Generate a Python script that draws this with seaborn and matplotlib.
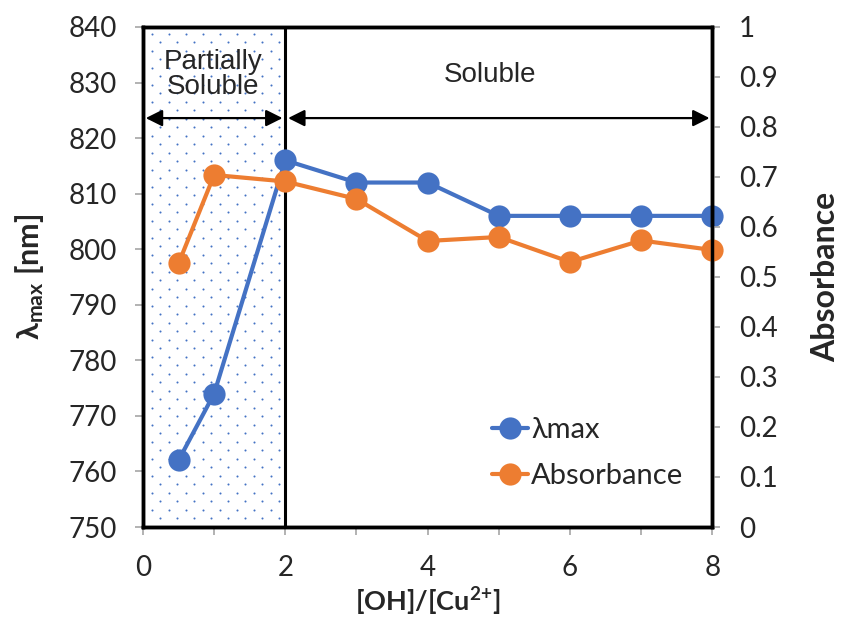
import matplotlib
matplotlib.use("Agg")
import matplotlib.pyplot as plt
import seaborn as sns
import pandas as pd
import numpy as np

ratio = [0.5, 1, 2, 3, 4, 5, 6, 7, 8]
lambda_max = [762, 774, 816, 812, 812, 806, 806, 806, 806]
absorbance = [0.527, 0.704, 0.691, 0.656, 0.572, 0.580, 0.530, 0.573, 0.554]
x_ticks = [0, 2, 4, 6, 8]
region_labels = ["Partially\nSoluble", "Soluble"]

sns.set_theme(style="white")
plt.rcParams['font.family'] = ['Lato', 'DejaVu Sans']
plt.rcParams['mathtext.fontset'] = 'custom'
plt.rcParams['mathtext.rm'] = 'Lato:bold'
plt.rcParams['mathtext.bf'] = 'Lato:bold'
plt.rcParams['mathtext.it'] = 'Lato:bold'

df = pd.DataFrame({"ratio": ratio, "lambda": lambda_max, "abs": absorbance})

W, H = 841, 620
fig = plt.figure(figsize=(W / 100, H / 100), dpi=100)
ax = fig.add_axes([0.170, 0.150, 0.677, 0.8065])
ax2 = ax.twinx()

blue = "#4472C4"
orange = "#ED7D31"

ax.set_xlim(0, 8)
ax.set_ylim(750, 840)
ax2.set_ylim(0, 1)

# dotted texture for the partially soluble region (staggered lattice in pixel spacing)
px_x = 8 / (0.677 * W)
px_y = 90 / (0.8065 * H)
dx, dy = 17 * px_x, 8.5 * px_y
rows = np.arange(840 - 7 * px_y, 750, -dy)
pts_x, pts_y = [], []
for i, yv in enumerate(rows):
    start = 9 * px_x + (dx / 2 if i % 2 else 0)
    xs = np.arange(start, 2 - 2 * px_x, dx)
    pts_x.extend(xs)
    pts_y.extend([yv] * len(xs))
ax.scatter(pts_x, pts_y, s=2.2, color=blue, linewidths=0, zorder=0)
ax.axvline(2, color="black", lw=2.2, zorder=1)

sns.lineplot(data=df, x="ratio", y="lambda", ax=ax, color=blue, marker="o",
             markersize=16, linewidth=3, markeredgewidth=0, label="λmax", legend=False,
             zorder=2, clip_on=False)
sns.lineplot(data=df, x="ratio", y="abs", ax=ax2, color=orange, marker="o",
             markersize=16, linewidth=3, markeredgewidth=0, label="Absorbance", legend=False,
             zorder=2, clip_on=False)

ax.set_xticks(x_ticks)
ax.set_xticks([1, 3, 5, 7], minor=True)
ax.set_yticks(range(750, 841, 10))
ax2.set_yticks([i / 10 for i in range(11)])
ax2.set_yticklabels(["0"] + [f"{i/10:g}" for i in range(1, 10)] + ["1"])

for a in (ax, ax2):
    for s in a.spines.values():
        s.set_color("black")
        s.set_linewidth(2.5)
    a.tick_params(which="both", direction="out", color="#A6A6A6", width=1.2,
                  labelsize=20, length=6, pad=13)
    a.grid(False)
ax.tick_params(axis="x", which="both", bottom=True, pad=14)
ax.tick_params(axis="y", left=True)
ax2.tick_params(axis="y", right=True)

ax.set_xlabel("[OH]/[Cu$^{2{+}}$]", fontsize=19.5, fontweight="bold", va="baseline")
ax.xaxis.set_label_coords(0.5, -0.168)
ax.set_ylabel(r"λ$_{\mathrm{max}}$ [nm]", fontsize=22, fontweight="bold", labelpad=16)
ax2.set_ylabel("Absorbance", fontsize=23, fontweight="bold", labelpad=24)

# arrows
arrow_y = 823.6
ax.annotate("", xy=(0, arrow_y), xytext=(2, arrow_y),
            arrowprops=dict(arrowstyle="<|-|>", color="black", lw=1.6, mutation_scale=25), zorder=4)
ax.annotate("", xy=(2, arrow_y), xytext=(8, arrow_y),
            arrowprops=dict(arrowstyle="<|-|>", color="black", lw=1.6, mutation_scale=25), zorder=4)
ax.text(0.98, 831.4, region_labels[0], ha="center", va="center", fontsize=20,
        family=["Liberation Sans", "DejaVu Sans"], linespacing=0.95, zorder=4)
ax.text(4.87, 831.4, region_labels[1], ha="center", va="center", fontsize=20,
        family=["Liberation Sans", "DejaVu Sans"], zorder=4)

h1, l1 = ax.get_legend_handles_labels()
h2, l2 = ax2.get_legend_handles_labels()
leg = ax2.legend(h1 + h2, l1 + l2, loc="center left", bbox_to_anchor=(0.613, 0.148),
                 frameon=False, fontsize=21, handlelength=1.25, handletextpad=0.1,
                 labelspacing=0.68, borderaxespad=0, borderpad=0)
leg.set_zorder(5)

ax.patch.set_facecolor("white")

fig.savefig("out.png", dpi=100)
